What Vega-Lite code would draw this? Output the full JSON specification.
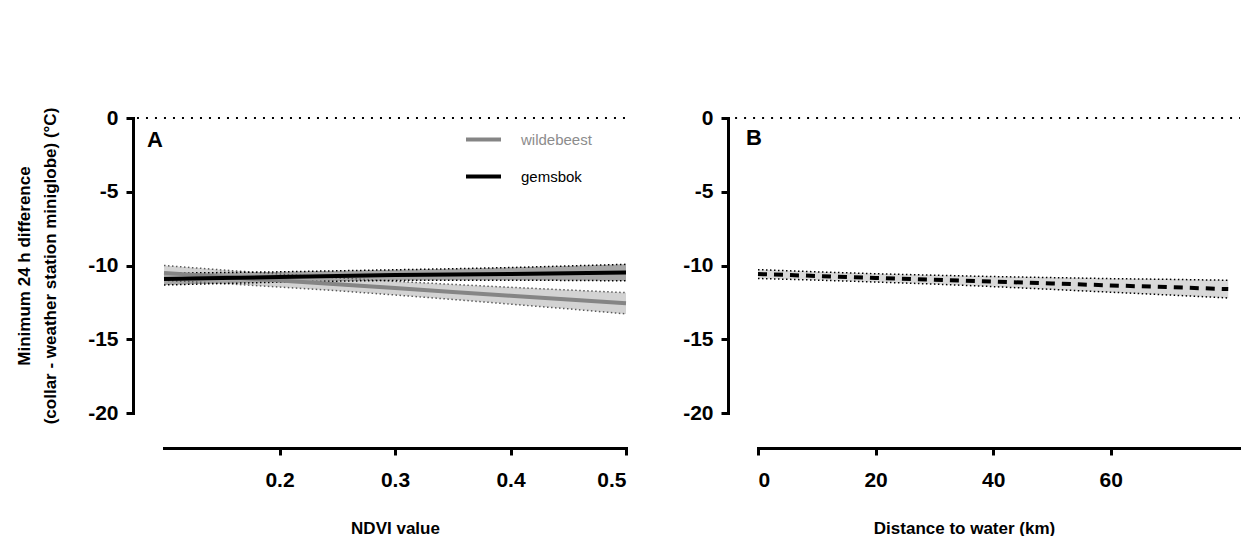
{
  "$schema": "https://vega.github.io/schema/vega-lite/v6.json",
  "background": "white",
  "padding": {"left": 15, "top": 107, "right": 0, "bottom": 0},
  "config": {
    "view": {"stroke": null},
    "font": "Liberation Sans",
    "axis": {
      "domainColor": "black", "domainWidth": 3, "domainCap": "square",
      "tickColor": "black", "tickWidth": 3, "tickSize": 7,
      "labelFont": "Liberation Sans", "labelFontWeight": "bold", "labelFontSize": 21, "labelColor": "black",
      "titleFont": "Liberation Sans", "titleFontWeight": "bold", "titleFontSize": 17, "titleColor": "black",
      "grid": false, "labelPadding": 8
    }
  },
  "datasets": {
    "ndvi": [
      {"ndvi": 0.10, "species": "wildebeest", "mean": -10.50, "hi": -10.00, "lo": -11.00},
      {"ndvi": 0.15, "species": "wildebeest", "mean": -10.76, "hi": -10.30, "lo": -11.22},
      {"ndvi": 0.20, "species": "wildebeest", "mean": -11.02, "hi": -10.58, "lo": -11.46},
      {"ndvi": 0.25, "species": "wildebeest", "mean": -11.27, "hi": -10.83, "lo": -11.71},
      {"ndvi": 0.30, "species": "wildebeest", "mean": -11.53, "hi": -11.07, "lo": -12.00},
      {"ndvi": 0.35, "species": "wildebeest", "mean": -11.79, "hi": -11.28, "lo": -12.30},
      {"ndvi": 0.40, "species": "wildebeest", "mean": -12.05, "hi": -11.48, "lo": -12.62},
      {"ndvi": 0.45, "species": "wildebeest", "mean": -12.30, "hi": -11.66, "lo": -12.94},
      {"ndvi": 0.50, "species": "wildebeest", "mean": -12.56, "hi": -11.84, "lo": -13.28},
      {"ndvi": 0.10, "species": "gemsbok", "mean": -10.92, "hi": -10.52, "lo": -11.32},
      {"ndvi": 0.15, "species": "gemsbok", "mean": -10.85, "hi": -10.48, "lo": -11.22},
      {"ndvi": 0.20, "species": "gemsbok", "mean": -10.78, "hi": -10.43, "lo": -11.13},
      {"ndvi": 0.25, "species": "gemsbok", "mean": -10.71, "hi": -10.36, "lo": -11.06},
      {"ndvi": 0.30, "species": "gemsbok", "mean": -10.65, "hi": -10.29, "lo": -11.01},
      {"ndvi": 0.35, "species": "gemsbok", "mean": -10.61, "hi": -10.22, "lo": -11.00},
      {"ndvi": 0.40, "species": "gemsbok", "mean": -10.57, "hi": -10.14, "lo": -11.00},
      {"ndvi": 0.45, "species": "gemsbok", "mean": -10.52, "hi": -10.03, "lo": -11.01},
      {"ndvi": 0.50, "species": "gemsbok", "mean": -10.48, "hi": -9.92, "lo": -11.04}
    ],
    "water": [
      {"dist": 0, "mean": -10.58, "hi": -10.28, "lo": -10.88},
      {"dist": 10, "mean": -10.71, "hi": -10.43, "lo": -10.99},
      {"dist": 20, "mean": -10.84, "hi": -10.56, "lo": -11.12},
      {"dist": 30, "mean": -10.96, "hi": -10.66, "lo": -11.26},
      {"dist": 40, "mean": -11.09, "hi": -10.75, "lo": -11.43},
      {"dist": 50, "mean": -11.22, "hi": -10.82, "lo": -11.62},
      {"dist": 60, "mean": -11.35, "hi": -10.89, "lo": -11.81},
      {"dist": 70, "mean": -11.47, "hi": -10.94, "lo": -12.00},
      {"dist": 80, "mean": -11.60, "hi": -11.00, "lo": -12.20}
    ]
  },
  "spacing": 48,
  "hconcat": [
    {
      "width": 462,
      "height": 295,
      "data": {"name": "ndvi"},
      "layer": [
        {
          "transform": [{"filter": "datum.species === 'wildebeest'"}],
          "mark": {"type": "area", "fill": "#d3d3d3", "opacity": 1},
          "encoding": {
            "x": {"field": "ndvi", "type": "quantitative", "title": "NDVI value",
                  "scale": {"domain": [0.1, 0.5], "nice": false, "zero": false},
                  "axis": {"values": [0.2, 0.3, 0.4, 0.5], "format": ".1f", "offset": 35, "labelPadding": 14, "titlePadding": 30}},
            "y": {"field": "lo", "type": "quantitative",
                  "title": ["Minimum 24 h difference", "(collar - weather station miniglobe) (°C)"],
                  "scale": {"domain": [-20, 0], "nice": false, "zero": false},
                  "axis": {"values": [0, -5, -10, -15, -20], "labelExpr": "'' + datum.value", "offset": 31, "titlePadding": 28, "titleLineHeight": 26}},
            "y2": {"field": "hi"}
          }
        },
        {
          "transform": [{"filter": "datum.species === 'gemsbok'"}],
          "mark": {"type": "area", "fill": "#a6a6a6", "opacity": 1},
          "encoding": {
            "x": {"field": "ndvi", "type": "quantitative", "scale": {"domain": [0.1, 0.5], "nice": false, "zero": false}},
            "y": {"field": "lo", "type": "quantitative", "scale": {"domain": [-20, 0], "nice": false, "zero": false}},
            "y2": {"field": "hi"}
          }
        },
        {
          "transform": [{"filter": "datum.species === 'wildebeest'"}],
          "mark": {"type": "line", "strokeDash": [1.5, 2.5], "strokeWidth": 1.5, "color": "#5a5a5a"},
          "encoding": {
            "x": {"field": "ndvi", "type": "quantitative", "scale": {"domain": [0.1, 0.5], "nice": false, "zero": false}},
            "y": {"field": "hi", "type": "quantitative", "scale": {"domain": [-20, 0], "nice": false, "zero": false}}
          }
        },
        {
          "transform": [{"filter": "datum.species === 'wildebeest'"}],
          "mark": {"type": "line", "strokeDash": [1.5, 2.5], "strokeWidth": 1.5, "color": "#5a5a5a"},
          "encoding": {
            "x": {"field": "ndvi", "type": "quantitative", "scale": {"domain": [0.1, 0.5], "nice": false, "zero": false}},
            "y": {"field": "lo", "type": "quantitative", "scale": {"domain": [-20, 0], "nice": false, "zero": false}}
          }
        },
        {
          "transform": [{"filter": "datum.species === 'gemsbok'"}],
          "mark": {"type": "line", "strokeDash": [1.5, 2.5], "strokeWidth": 1.5, "color": "#000000"},
          "encoding": {
            "x": {"field": "ndvi", "type": "quantitative", "scale": {"domain": [0.1, 0.5], "nice": false, "zero": false}},
            "y": {"field": "hi", "type": "quantitative", "scale": {"domain": [-20, 0], "nice": false, "zero": false}}
          }
        },
        {
          "transform": [{"filter": "datum.species === 'gemsbok'"}],
          "mark": {"type": "line", "strokeDash": [1.5, 2.5], "strokeWidth": 1.5, "color": "#000000"},
          "encoding": {
            "x": {"field": "ndvi", "type": "quantitative", "scale": {"domain": [0.1, 0.5], "nice": false, "zero": false}},
            "y": {"field": "lo", "type": "quantitative", "scale": {"domain": [-20, 0], "nice": false, "zero": false}}
          }
        },
        {
          "mark": {"type": "line", "strokeWidth": 4},
          "encoding": {
            "x": {"field": "ndvi", "type": "quantitative", "scale": {"domain": [0.1, 0.5], "nice": false, "zero": false}},
            "y": {"field": "mean", "type": "quantitative", "scale": {"domain": [-20, 0], "nice": false, "zero": false}},
            "color": {"field": "species", "type": "nominal",
                      "scale": {"domain": ["wildebeest", "gemsbok"], "range": ["#858585", "#000000"]},
                      "legend": {"orient": "none", "legendX": 300, "legendY": 2, "title": null,
                                 "symbolType": "stroke", "symbolSize": 1225, "symbolStrokeWidth": 4,
                                 "labelFont": "Liberation Sans", "labelFontSize": 15, "labelOffset": 18,
                                 "rowPadding": 9, "padding": 0,
                                 "encode": {"labels": {"update": {"fill": {"signal": "datum.label === 'wildebeest' ? '#8c8c8c' : '#000000'"}}}}}}
          }
        },
        {
          "data": {"values": [{}]},
          "mark": {"type": "rule", "strokeDash": [2, 7], "strokeWidth": 2, "color": "black"},
          "encoding": {
            "x": {"datum": 0.0766, "type": "quantitative"},
            "x2": {"datum": 0.5},
            "y": {"datum": 0, "type": "quantitative"}
          }
        },
        {
          "data": {"values": [{"label": "A"}]},
          "mark": {"type": "text", "align": "left", "baseline": "alphabetic", "fontSize": 22, "fontWeight": "bold", "font": "Liberation Sans", "color": "black"},
          "encoding": {
            "x": {"datum": 0.0853, "type": "quantitative"},
            "y": {"datum": -1.95, "type": "quantitative"},
            "text": {"field": "label"}
          }
        }
      ]
    },
    {
      "width": 482,
      "height": 295,
      "data": {"name": "water"},
      "layer": [
        {
          "mark": {"type": "area", "fill": "#d9d9d9", "opacity": 1},
          "encoding": {
            "x": {"field": "dist", "type": "quantitative", "title": "Distance to water (km)",
                  "scale": {"domain": [0, 82], "nice": false, "zero": false},
                  "axis": {"values": [0, 20, 40, 60], "offset": 35, "labelPadding": 14, "titlePadding": 30, "titleX": 206}},
            "y": {"field": "lo", "type": "quantitative", "title": null,
                  "scale": {"domain": [-20, 0], "nice": false, "zero": false},
                  "axis": {"values": [0, -5, -10, -15, -20], "labelExpr": "'' + datum.value", "offset": 30, "title": null}},
            "y2": {"field": "hi"}
          }
        },
        {
          "mark": {"type": "line", "strokeDash": [1.5, 2.5], "strokeWidth": 1.5, "color": "black"},
          "encoding": {
            "x": {"field": "dist", "type": "quantitative", "scale": {"domain": [0, 82], "nice": false, "zero": false}},
            "y": {"field": "hi", "type": "quantitative", "scale": {"domain": [-20, 0], "nice": false, "zero": false}}
          }
        },
        {
          "mark": {"type": "line", "strokeDash": [1.5, 2.5], "strokeWidth": 1.5, "color": "black"},
          "encoding": {
            "x": {"field": "dist", "type": "quantitative", "scale": {"domain": [0, 82], "nice": false, "zero": false}},
            "y": {"field": "lo", "type": "quantitative", "scale": {"domain": [-20, 0], "nice": false, "zero": false}}
          }
        },
        {
          "mark": {"type": "line", "strokeDash": [9, 7], "strokeWidth": 4, "color": "black"},
          "encoding": {
            "x": {"field": "dist", "type": "quantitative", "scale": {"domain": [0, 82], "nice": false, "zero": false}},
            "y": {"field": "mean", "type": "quantitative", "scale": {"domain": [-20, 0], "nice": false, "zero": false}}
          }
        },
        {
          "data": {"values": [{}]},
          "mark": {"type": "rule", "strokeDash": [2, 7], "strokeWidth": 2, "color": "black"},
          "encoding": {
            "x": {"datum": -3.9, "type": "quantitative"},
            "x2": {"datum": 82},
            "y": {"datum": 0, "type": "quantitative"}
          }
        },
        {
          "data": {"values": [{"label": "B"}]},
          "mark": {"type": "text", "align": "left", "baseline": "alphabetic", "fontSize": 22, "fontWeight": "bold", "font": "Liberation Sans", "color": "black"},
          "encoding": {
            "x": {"datum": -2.04, "type": "quantitative"},
            "y": {"datum": -1.83, "type": "quantitative"},
            "text": {"field": "label"}
          }
        }
      ]
    }
  ]
}
